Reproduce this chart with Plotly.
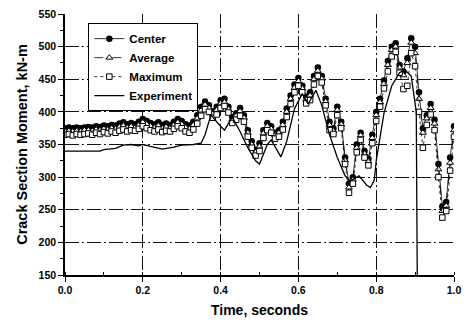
import plotly.graph_objects as go

# ---- data ----
time_s = [0.00, 0.01, 0.02, 0.03, 0.04, 0.05, 0.06, 0.07, 0.08, 0.09,
          0.10, 0.11, 0.12, 0.13, 0.14, 0.15, 0.16, 0.17, 0.18, 0.19,
          0.20, 0.21, 0.22, 0.23, 0.24, 0.25, 0.26, 0.27, 0.28, 0.29,
          0.30, 0.31, 0.32, 0.33, 0.34, 0.35, 0.36, 0.37, 0.38, 0.39,
          0.40, 0.41, 0.42, 0.43, 0.44, 0.45, 0.46, 0.47, 0.48, 0.49,
          0.50, 0.51, 0.52, 0.53, 0.54, 0.55, 0.56, 0.57, 0.58, 0.59,
          0.60, 0.61, 0.62, 0.63, 0.64, 0.65, 0.66, 0.67, 0.68, 0.69,
          0.70, 0.71, 0.72, 0.73, 0.74, 0.75, 0.76, 0.77, 0.78, 0.79,
          0.80, 0.81, 0.82, 0.83, 0.84, 0.85, 0.86, 0.87, 0.88, 0.89,
          0.90, 0.91, 0.92, 0.93, 0.94, 0.95, 0.96, 0.97, 0.98, 0.99,
          1.00]

center = [375, 376, 375, 376, 375, 376, 377, 376, 378, 377,
          379, 378, 380, 379, 382, 384, 381, 383, 381, 385,
          389, 386, 383, 381, 384, 380, 382, 380, 385, 389,
          386, 381, 379, 385, 395, 408, 416, 410, 401, 408,
          418, 420, 408, 392, 398, 406, 395, 372, 355, 342,
          352, 372, 383, 378, 368, 372, 385, 405, 425, 442,
          452, 440, 423, 430, 455, 468, 455, 420, 385, 375,
          408, 385, 330, 290, 300, 350, 368, 340, 328, 365,
          400, 420, 448, 478, 500, 505, 472, 462, 482, 513,
          500, 430, 375, 395, 412, 388, 320, 255, 262, 330,
          378]

average = [370, 371, 370, 371, 370, 372, 372, 371, 373, 372,
           374, 373, 375, 374, 377, 379, 376, 378, 376, 380,
           384, 381, 378, 376, 379, 375, 377, 375, 380, 384,
           381, 376, 374, 380, 390, 402, 411, 406, 397, 403,
           413, 415, 404, 388, 394, 401, 391, 368, 350, 338,
           347, 367, 378, 374, 364, 368, 380, 400, 420, 437,
           447, 436, 419, 425, 450, 463, 451, 416, 380, 371,
           403, 381, 326, 284, 296, 345, 364, 336, 324, 360,
           395, 415, 443, 472, 495, 500, 468, 456, 475, 506,
           490, 420, 368, 390, 406, 382, 312, 248, 256, 322,
           372]

maximum = [365, 366, 364, 366, 365, 366, 367, 365, 368, 366,
           369, 367, 370, 368, 371, 373, 370, 372, 371, 374,
           378, 375, 372, 370, 373, 369, 371, 370, 374, 378,
           375, 370, 368, 373, 382, 394, 404, 400, 391, 396,
           406, 409, 399, 383, 388, 394, 385, 362, 345, 333,
           340, 360, 372, 368, 359, 362, 373, 392, 412, 430,
           440, 430, 413, 418, 442, 455, 445, 410, 372, 366,
           395, 375, 320, 276, 290, 338, 357, 330, 318, 352,
           386, 408, 436, 462, 485, 492, 460, 435, 440, 490,
           470, 400, 345, 380, 396, 372, 300, 238, 248, 310,
           362]

exp_time = [0.00, 0.05, 0.09, 0.10, 0.13, 0.15, 0.17, 0.19, 0.20, 0.22,
            0.25, 0.28, 0.30, 0.33, 0.35, 0.36, 0.375, 0.40, 0.41, 0.43,
            0.45, 0.47, 0.49, 0.50, 0.52, 0.53, 0.555, 0.57, 0.59, 0.61,
            0.625, 0.645, 0.66, 0.68, 0.70, 0.72, 0.733, 0.756, 0.775, 0.785,
            0.795, 0.80, 0.82, 0.84, 0.86, 0.873, 0.89, 0.903, 0.906]
experiment = [340, 340, 340, 342, 344, 349, 350, 348, 350, 347,
              343, 346, 349, 350, 352, 365, 395, 378, 372, 392,
              370, 345, 325, 320, 350, 357, 331, 355, 405, 428,
              412, 433, 410, 365, 330, 302, 294, 302, 288, 284,
              295, 325, 398, 440, 460, 465, 455, 400, 100]

x_ticks = [0.0, 0.2, 0.4, 0.6, 0.8, 1.0]
x_tick_text = ["0.0", "0.2", "0.4", "0.6", "0.8", "1.0"]
y_ticks = [150, 200, 250, 300, 350, 400, 450, 500, 550]

FONT = "Liberation Sans, Arial, sans-serif"
GRID_DASH = "14px,3px,2px,3px"

fig = go.Figure()
fig.add_trace(go.Scatter(
    x=time_s, y=center, name="Center", mode="lines+markers",
    line=dict(color="black", width=0.8),
    marker=dict(symbol="circle", size=6.5, color="black"),
))
fig.add_trace(go.Scatter(
    x=time_s, y=average, name="Average", mode="lines+markers",
    line=dict(color="black", width=0.8, dash="dash"),
    marker=dict(symbol="triangle-up", size=6, color="white",
                line=dict(color="black", width=1)),
))
fig.add_trace(go.Scatter(
    x=time_s, y=maximum, name="Maximum", mode="lines+markers",
    line=dict(color="black", width=0.8, dash="dot"),
    marker=dict(symbol="square", size=5.5, color="white",
                line=dict(color="black", width=1)),
))
fig.add_trace(go.Scatter(
    x=exp_time, y=experiment, name="Experiment", mode="lines",
    line=dict(color="black", width=1.3),
))

fig.update_layout(
    width=469, height=324,
    margin=dict(l=65, r=11, t=8, b=47),
    paper_bgcolor="white", plot_bgcolor="white",
    font=dict(family=FONT, color="black"),
    showlegend=True,
    legend=dict(
        x=0.06, y=0.965, xanchor="left", yanchor="top",
        bgcolor="white", bordercolor="black", borderwidth=1,
        font=dict(family=FONT, size=11.5, color="black", weight="bold"),
        tracegroupgap=0, itemwidth=30,
    ),
    xaxis=dict(
        range=[0, 1], tickmode="array", tickvals=x_ticks, ticktext=x_tick_text,
        showline=True, linecolor="black", linewidth=1.5,
        ticks="outside", ticklen=5, tickcolor="black", tickwidth=1,
        showgrid=True, gridcolor="#111111", gridwidth=1, griddash=GRID_DASH,
        zeroline=False,
        tickfont=dict(family=FONT, size=10.5, weight="bold"),
        minor=dict(dtick=0.1, ticks="inside", ticklen=3, tickcolor="black", showgrid=False),
        title=dict(text="Time, seconds", standoff=10,
                   font=dict(family=FONT, size=14, weight="bold")),
    ),
    yaxis=dict(
        range=[150, 550], tickmode="array", tickvals=y_ticks,
        showline=True, linecolor="black", linewidth=1.5,
        ticks="outside", ticklen=5, tickcolor="black", tickwidth=1,
        showgrid=True, gridcolor="#111111", gridwidth=1, griddash=GRID_DASH,
        zeroline=False,
        tickfont=dict(family=FONT, size=10.5, weight="bold"),
        minor=dict(dtick=25, tick0=150, ticks="outside", ticklen=3, tickcolor="black", showgrid=False),
        title=dict(text="Crack Section Moment, kN-m", standoff=8,
                   font=dict(family=FONT, size=14.5, weight="bold")),
    ),
)

fig.write_html("out.html")
